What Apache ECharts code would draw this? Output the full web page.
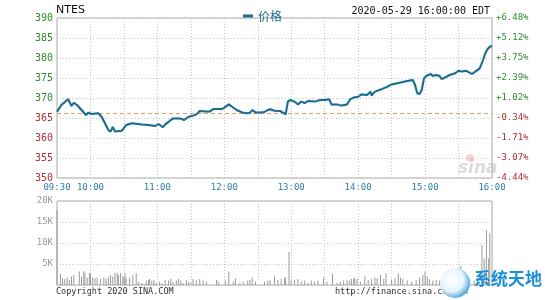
<!DOCTYPE html>
<html><head><meta charset="utf-8">
<script src="https://cdn.jsdelivr.net/npm/echarts@6/dist/echarts.min.js"></script>
<style>html,body{margin:0;padding:0;background:#fff}#c{width:545px;height:300px}</style>
</head><body><div id="c"></div><script>
const symbolName = 'NTES';
const timestampText = '2020-05-29 16:00:00 EDT';
const seriesName = '价格';
const prevClose = 366.25;

// minutes after 09:30
const priceMinutes = [0,4,10,13,15,18,22,26,28,31,37,40,43,46,48,50,52,58,62,67,76,82,88,91,95,97,101,104,110,114,118,122,125,128,133,137,140,148,150,154,157,161,166,170,173,175,178,182,186,189,191,195,200,203,205,207,209,213,216,219,222,225,231,236,240,244,246,251,255,260,263,266,270,273,278,281,282,285,291,296,300,308,314,319,321,323,325,327,329,331,335,337,340,343,345,349,352,357,360,363,367,372,375,379,382,384,386,388,390];
const priceValues = [366.6,368.25,369.7,368.0,368.8,368.25,367.0,365.75,366.3,366.0,366.2,365.3,363.7,362.0,361.6,362.8,361.6,361.8,363.25,363.7,363.4,363.25,363.0,363.5,362.7,363.4,364.25,364.9,364.9,364.5,365.3,365.6,365.9,366.75,366.6,366.6,367.25,367.25,367.6,368.4,367.8,367.0,366.4,366.2,366.3,367.0,366.4,366.4,366.5,367.0,367.2,366.8,366.75,366.3,365.9,369.1,369.5,369.1,368.4,369.1,368.7,369.25,369.1,369.5,369.5,369.7,368.4,368.4,368.1,368.4,369.7,370.1,370.3,370.9,370.75,371.6,370.6,371.6,372.2,372.8,373.4,373.9,374.25,374.5,373.25,371.2,371.0,372.0,374.9,375.5,376.0,375.5,375.75,375.5,374.7,375.3,375.75,376.2,376.8,376.6,376.8,376.0,376.6,377.4,379.5,381.2,382.2,382.8,383.0];

const volMinutes = [0,3,5,7,9,11,13,15,20,22,24,25,27,29,30,32,34,36,39,42,44,46,48,50,52,54,55,57,59,60,61,62,65,68,71,73,76,78,80,82,83,85,87,89,92,94,97,100,102,104,107,109,111,113,116,118,120,122,125,128,131,134,143,145,151,154,158,160,164,167,171,173,175,178,186,189,191,195,198,201,204,205,208,210,213,216,219,222,225,228,231,234,239,242,247,251,254,257,260,262,264,266,267,269,272,276,279,282,285,287,290,293,295,300,303,306,308,310,314,318,322,325,328,330,332,334,337,340,343,347,352,356,362,366,370,374,377,381,383,385,387,388];
const volValues = [17900,2600,1600,1400,1800,1200,2000,2400,3200,2100,3300,2900,1800,2800,2900,1800,1600,1800,1400,1800,1400,2000,2400,2000,2800,2900,2400,2800,2100,1800,2800,1600,1800,2400,2800,800,500,200,1100,1200,1400,1100,1200,500,800,400,1200,1100,1400,800,1100,1400,1100,500,1200,800,500,1400,1100,1400,1100,800,1200,800,1100,3200,800,1600,500,800,1100,1200,1800,800,800,1100,1200,2100,1200,1400,1600,1800,7900,1100,1200,1400,800,1100,500,1100,800,1100,1800,800,2600,500,800,1100,1200,1100,1400,1600,1800,1400,800,2100,1200,1400,1800,1600,2400,1400,2800,1200,1600,2800,1800,1400,1100,800,1200,1800,2400,3200,2000,1400,1100,1200,1000,800,1200,900,4600,1000,1300,1100,1500,9500,6300,13100,6300,12300];

const timeTickMinutes = [0,30,90,150,210,270,330,390];
const timeTickLabels = ['09:30','10:00','11:00','12:00','13:00','14:00','15:00','16:00'];
const priceTicks = [350,355,360,365,370,375,380,385,390];
const pctTickLabels = ['-4.44%','-3.07%','-1.71%','-0.34%','+1.02%','+2.39%','+3.75%','+5.12%','+6.48%'];
const volTicks = [5000,10000,15000,20000];
const volTickLabels = ['5K','10K','15K','20K'];

const GREEN = '#2f8a2f', RED = '#b03030', LINE = '#1f6a88', GRIDC = '#c8c8c8', MONO = 'DejaVu Sans Mono';
const priceData = priceMinutes.map((m, i) => [m, priceValues[i]]);
const volData = volMinutes.map((m, i) => [m, volValues[i]]);

const chart = echarts.init(document.getElementById('c'), null, {renderer: 'canvas'});
const split = {show: true, lineStyle: {color: GRIDC, type: [1, 2], width: 1}};
chart.setOption({
  animation: false,
  backgroundColor: '#fff',
  legend: {
    left: 238, top: 5, itemWidth: 10, itemHeight: 3, itemGap: 6, icon: 'rect',
    data: [seriesName],
    textStyle: {color: LINE, fontSize: 12, fontFamily: 'Noto Sans CJK SC'}
  },
  grid: [
    {left: 57, right: 53, top: 18, height: 160, show: true, borderColor: '#aaa', borderWidth: 1},
    {left: 57, right: 53, top: 201, height: 84, show: true, borderColor: '#aaa', borderWidth: 1}
  ],
  xAxis: [
    {gridIndex: 0, type: 'value', min: 0, max: 390, interval: 30,
      axisLine: {show: false}, axisTick: {show: false}, splitLine: split,
      axisLabel: {show: true, margin: 5, fontSize: 9, fontFamily: MONO, color: '#2f7fa6',
        showMinLabel: true, showMaxLabel: true,
        formatter: v => { const i = timeTickMinutes.indexOf(v); return i >= 0 ? timeTickLabels[i] : ''; }}},
    {gridIndex: 1, type: 'value', min: 0, max: 390, interval: 30,
      axisLine: {show: false}, axisTick: {show: false}, splitLine: split, axisLabel: {show: false}}
  ],
  yAxis: [
    {gridIndex: 0, type: 'value', min: 350, max: 390, interval: 5, position: 'left',
      axisLine: {show: false}, axisTick: {show: false}, splitLine: split,
      axisLabel: {margin: 4, fontSize: 10, fontFamily: MONO,
        color: v => (Number(v) > prevClose ? GREEN : RED),
        formatter: v => String(priceTicks[priceTicks.indexOf(v)] ?? v)}},
    {gridIndex: 0, type: 'value', min: 350, max: 390, interval: 5, position: 'right',
      axisLine: {show: false}, axisTick: {show: false}, splitLine: {show: false},
      axisLabel: {margin: 4, fontSize: 9, fontFamily: MONO,
        color: v => (Number(v) > prevClose ? GREEN : RED),
        formatter: v => { const i = priceTicks.indexOf(v); return i >= 0 ? pctTickLabels[i] : ''; }}},
    {gridIndex: 1, type: 'value', min: 0, max: 20000, interval: 5000, position: 'left',
      axisLine: {show: false}, axisTick: {show: false}, splitLine: split,
      axisLabel: {margin: 4, fontSize: 9, fontFamily: MONO, color: '#999',
        formatter: v => { const i = volTicks.indexOf(v); return i >= 0 ? volTickLabels[i] : ''; }}}
  ],
  series: [
    {name: seriesName, type: 'line', xAxisIndex: 0, yAxisIndex: 0, data: priceData,
      symbol: 'none', z: 5,
      lineStyle: {color: LINE, width: 2, shadowColor: 'rgba(150,220,240,0.6)', shadowBlur: 2},
      itemStyle: {color: LINE},
      markLine: {silent: true, symbol: 'none', animation: false, label: {show: false},
        lineStyle: {color: '#e0a062', type: [4, 3], width: 1},
        data: [{yAxis: prevClose}]}},
    {name: 'vol', type: 'bar', xAxisIndex: 1, yAxisIndex: 2, data: volData,
      barWidth: 1, itemStyle: {color: '#9a9a9a'}, z: 3}
  ],
  graphic: [
    {type: 'text', left: 56, top: 5, style: {text: symbolName, font: '11px "DejaVu Sans"', fill: '#111'}},
    {type: 'text', right: 55, top: 6, style: {text: timestampText, font: '10px "DejaVu Sans Mono"', fill: '#111'}},
    {type: 'text', left: 56, top: 287, style: {text: 'Copyright 2020 SINA.COM', font: '8.5px "DejaVu Sans Mono"', fill: '#333'}},
    {type: 'text', left: 335, top: 287, style: {text: 'http://finance.sina.com.cn', font: '8.5px "DejaVu Sans Mono"', fill: '#333'}},
    {type: 'text', left: 458, top: 160, z: 1, style: {text: 'sina', font: 'italic bold 17px "DejaVu Sans"', fill: 'rgba(190,190,190,0.55)'}},
    {type: 'circle', shape: {cx: 470, cy: 158, r: 4}, z: 1, style: {fill: 'rgba(235,160,160,0.45)'}},
    {type: 'circle', shape: {cx: 455, cy: 283, r: 15}, z: 50,
      style: {fill: {type: 'radial', x: 0.4, y: 0.4, r: 0.7, colorStops: [{offset: 0, color: '#ffffff'}, {offset: 0.55, color: '#e8f4fb'}, {offset: 1, color: '#1e8fd6'}]}}},
    {type: 'rect', shape: {x: 438, y: 268, width: 20, height: 8}, z: 49, style: {fill: '#fff'}},
    {type: 'text', left: 474, top: 270, z: 50, style: {text: '系统天地', font: 'bold 17px "Noto Sans CJK SC"', fill: '#1a8fd8'}}
  ]
});
</script></body></html>
